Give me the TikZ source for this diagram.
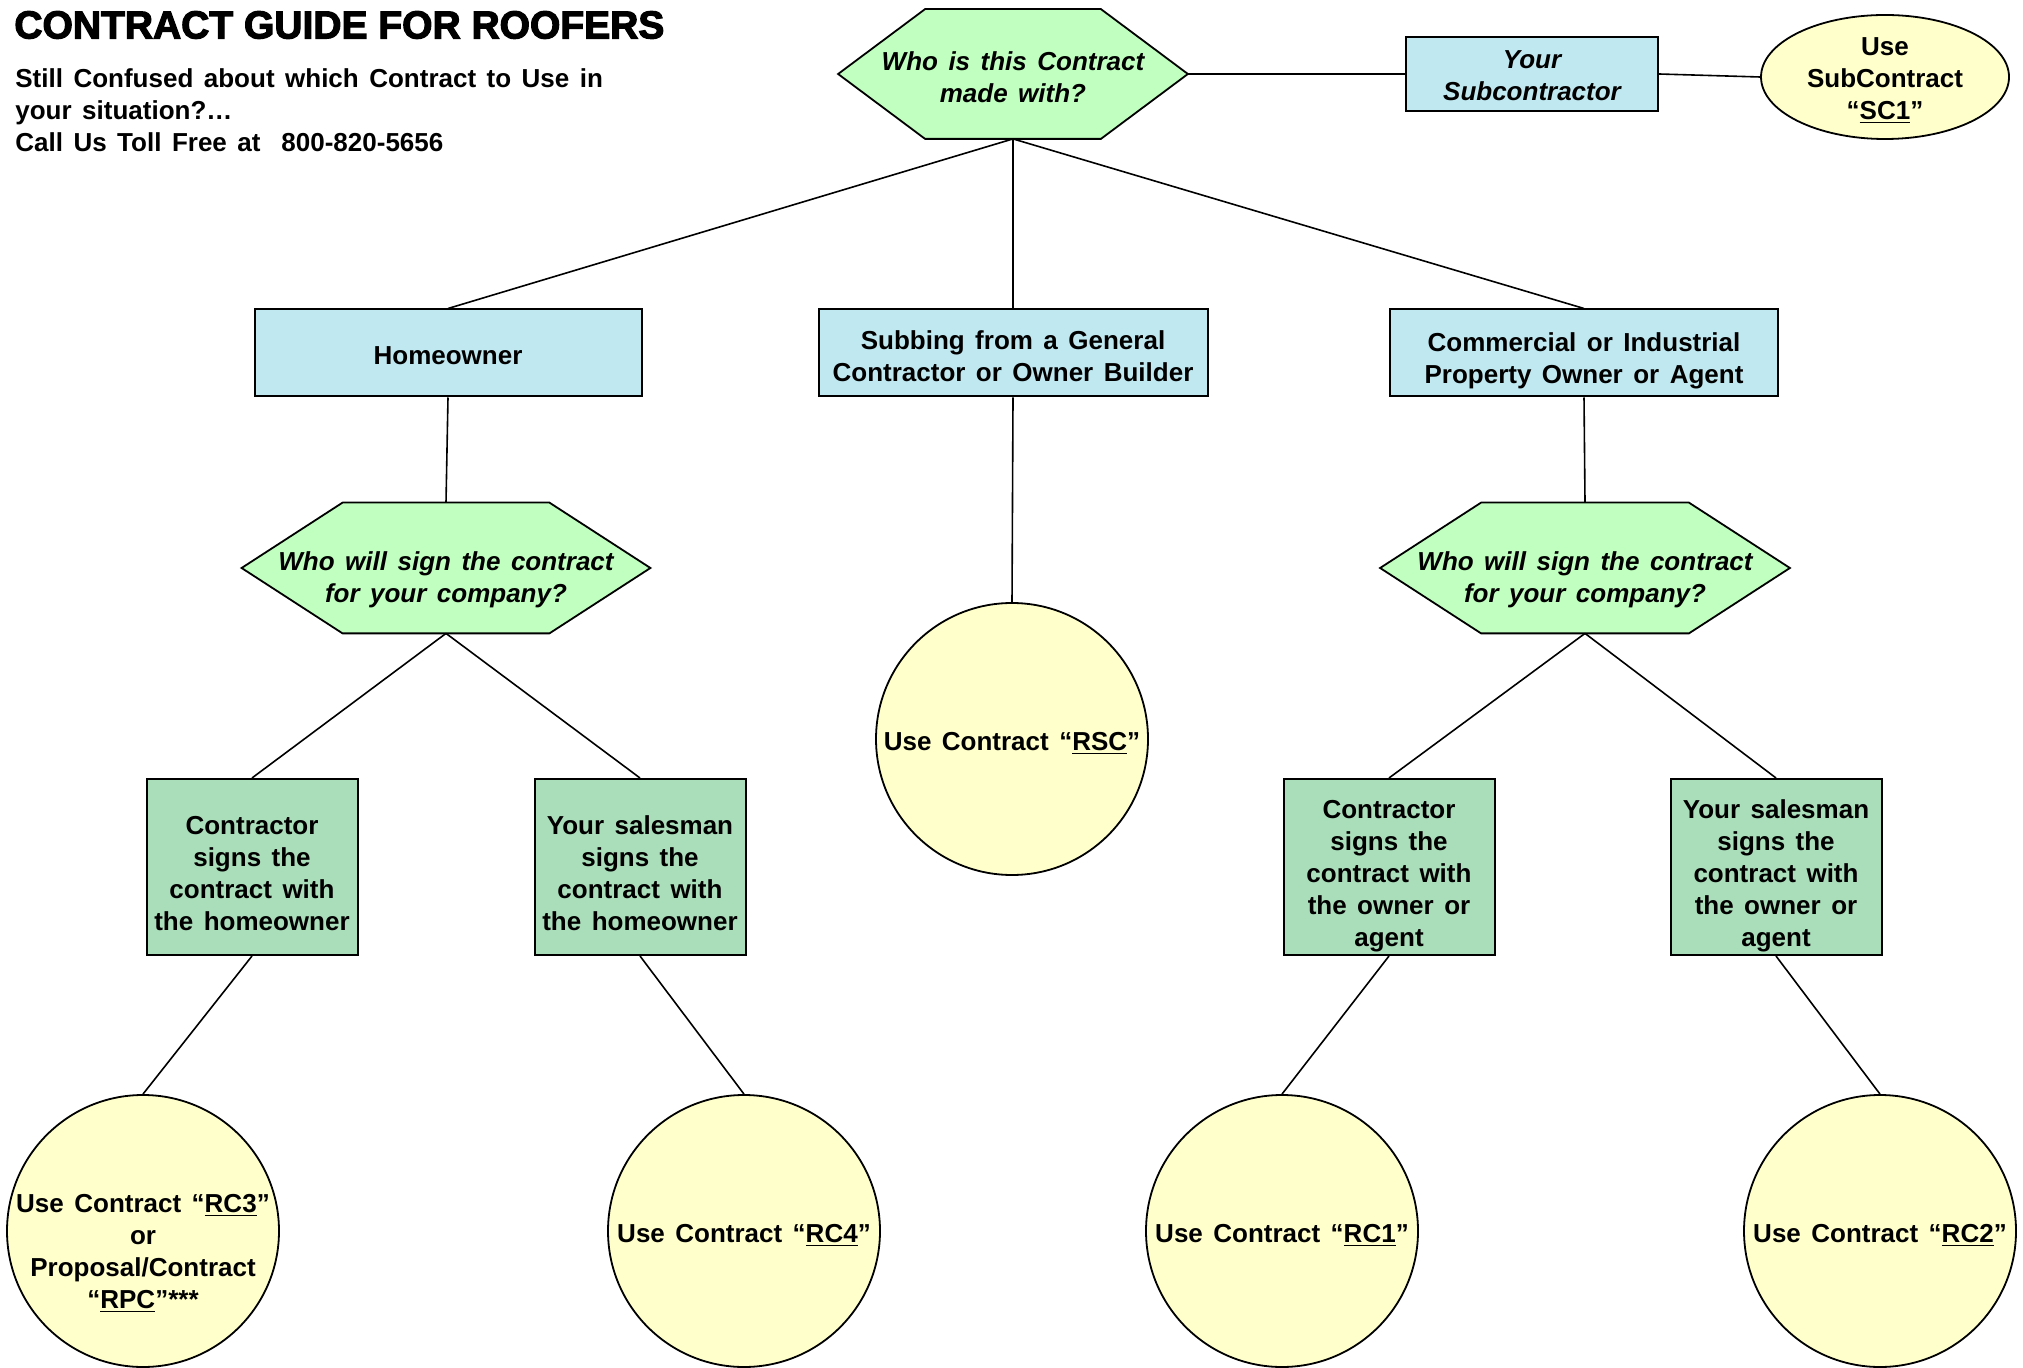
\documentclass[tikz,border=0pt]{standalone}
\usepackage{fontspec}
\usetikzlibrary{shapes.geometric}
\setmainfont{Liberation Sans}[WordSpace=1.45]
\newfontfamily\titlefont{Liberation Sans}[FakeBold=3]
\pgfdeclarelayer{background}
\pgfsetlayers{background,main}
\definecolor{boxblue}{RGB}{192,232,240}
\definecolor{hexgreen}{RGB}{192,255,192}
\definecolor{boxgreen}{RGB}{170,221,186}
\definecolor{circyellow}{RGB}{255,255,204}
\newcommand\ctext[2][-5.5pt]{\raisebox{#1}[0pt][0pt]{\makebox[0pt]{\begin{tabular}{@{}c@{}}#2\end{tabular}}}}
\tikzset{
  basetext/.style={font=\fontsize{13}{16}\selectfont\bfseries, inner sep=0pt},
  bluebox/.style={basetext, draw, line width=1pt, fill=boxblue},
  greenbox/.style={basetext, draw, line width=1pt, fill=boxgreen, minimum width=105.5pt, minimum height=88pt},
  hexnode/.style={basetext, font=\fontsize{13}{16}\selectfont\bfseries\itshape},
  hexshape/.style={draw, line width=0.9pt, fill=hexgreen},
  yellowcirc/.style={basetext, circle, draw, line width=0.9pt, fill=circyellow, minimum size=136pt},
  conn/.style={line width=0.8pt}
}
\begin{document}
\begin{tikzpicture}[x=0.5pt,y=-0.5pt]
\useasboundingbox (0,0) rectangle (2023,1368);

% header texts
\node[anchor=west, inner sep=0pt, font=\titlefont\fontsize{19.5}{22}\selectfont\bfseries] (title) at (14,25) {CONTRACT GUIDE FOR ROOFERS};
\node[anchor=north west, inner sep=0pt, align=left, font=\fontsize{13}{16}\selectfont\bfseries] (intro) at (15,68)
  {Still Confused about which Contract to Use in\\your situation?\ldots\\Call Us Toll Free at\ \ 800-820-5656};

% top hexagon
\node[hexnode, minimum width=174.5pt, minimum height=64.5pt] (q1) at (1013,74) {\ctext[-6pt]{Who is this Contract\\made with?}};
\node[bluebox, minimum width=126pt, minimum height=37pt, font=\fontsize{13}{16}\selectfont\bfseries\itshape] (sub) at (1532,74) {\ctext[-5pt]{Your\\Subcontractor}};
\node[basetext, ellipse, draw, line width=0.9pt, fill=circyellow, minimum width=124pt, minimum height=62pt] (sc1) at (1885,77) {\ctext[-5pt]{Use\\SubContract\\“\underline{SC1}”}};

% second level
\node[bluebox, minimum width=193.5pt, minimum height=43.5pt] (home) at (448,353) {\ctext[-5.5pt]{Homeowner}};
\node[bluebox, minimum width=194.5pt, minimum height=43.5pt] (gen) at (1013,353) {\ctext[-6pt]{Subbing from a General\\Contractor or Owner Builder}};
\node[bluebox, minimum width=194pt, minimum height=43.5pt] (com) at (1584,353) {\ctext[-7pt]{Commercial or Industrial\\Property Owner or Agent}};

% hexagons level 3
\node[hexnode, minimum width=204pt, minimum height=65pt] (q2) at (446,568) {\ctext[-9.3pt]{Who will sign the contract\\for your company?}};
\node[hexnode, minimum width=204.5pt, minimum height=65pt] (q3) at (1585,568) {\ctext[-9.3pt]{Who will sign the contract\\for your company?}};

% RSC circle
\node[yellowcirc] (rsc) at (1012,739) {\ctext{Use Contract “\underline{RSC}”}};

% boxes level 4
\node[greenbox] (hc) at (252,867) {\ctext[-7.4pt]{Contractor\\signs the\\contract with\\the homeowner}};
\node[greenbox] (hs) at (640,867) {\ctext[-7.4pt]{Your salesman\\signs the\\contract with\\the homeowner}};
\node[greenbox] (cc) at (1389,867) {\ctext[-7.6pt]{Contractor\\signs the\\contract with\\the owner or\\agent}};
\node[greenbox] (cs) at (1776,867) {\ctext[-7.6pt]{Your salesman\\signs the\\contract with\\the owner or\\agent}};

% circles bottom
\node[yellowcirc] (rc3) at (143,1231) {\ctext[-14.5pt]{Use Contract “\underline{RC3}”\\or\\Proposal/Contract\\“\underline{RPC}”***}};
\node[yellowcirc] (rc4) at (744,1231) {\ctext{Use Contract “\underline{RC4}”}};
\node[yellowcirc] (rc1) at (1282,1231) {\ctext{Use Contract “\underline{RC1}”}};
\node[yellowcirc] (rc2) at (1880,1231) {\ctext{Use Contract “\underline{RC2}”}};

% hexagon shapes and page background
\begin{pgfonlayer}{background}
\fill[white] (0,0) rectangle (2023,1368);
\draw[hexshape] (q1.west) -- ([xshift=43.5pt]q1.north west) -- ([xshift=-43.5pt]q1.north east) -- (q1.east) -- ([xshift=-43.5pt]q1.south east) -- ([xshift=43.5pt]q1.south west) -- cycle;
\draw[hexshape] (q2.west) -- ([xshift=50.5pt]q2.north west) -- ([xshift=-50.5pt]q2.north east) -- (q2.east) -- ([xshift=-50.5pt]q2.south east) -- ([xshift=50.5pt]q2.south west) -- cycle;
\draw[hexshape] (q3.west) -- ([xshift=50.5pt]q3.north west) -- ([xshift=-50.5pt]q3.north east) -- (q3.east) -- ([xshift=-50.5pt]q3.south east) -- ([xshift=50.5pt]q3.south west) -- cycle;
\end{pgfonlayer}

% connectors
\draw[conn] (q1.east) -- (sub.west);
\draw[conn] (sub.east) -- (sc1.west);
\draw[conn] (q1.south) -- (home.north);
\draw[conn] (q1.south) -- (gen.north);
\draw[conn] (q1.south) -- (com.north);
\draw[conn] (home.south) -- (q2.north);
\draw[conn] (gen.south) -- (rsc.north);
\draw[conn] (com.south) -- (q3.north);
\draw[conn] (q2.south) -- (hc.north);
\draw[conn] (q2.south) -- (hs.north);
\draw[conn] (q3.south) -- (cc.north);
\draw[conn] (q3.south) -- (cs.north);
\draw[conn] (hc.south) -- (rc3.north);
\draw[conn] (hs.south) -- (rc4.north);
\draw[conn] (cc.south) -- (rc1.north);
\draw[conn] (cs.south) -- (rc2.north);
\end{tikzpicture}
\end{document}
